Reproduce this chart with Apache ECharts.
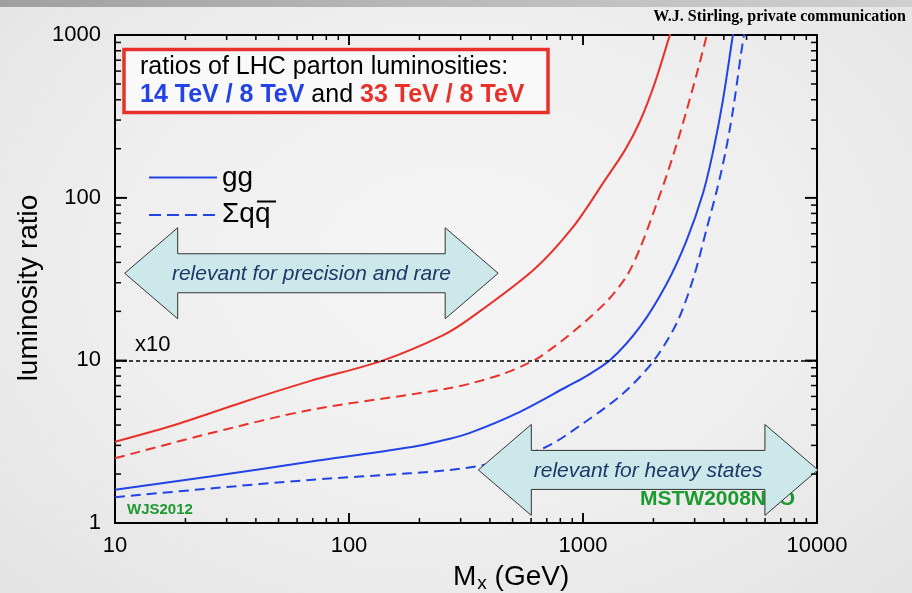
<!DOCTYPE html>
<html>
<head>
<meta charset="utf-8">
<script src="https://cdn.jsdelivr.net/npm/echarts@6/dist/echarts.min.js"></script>
<style>
  html, body { margin: 0; padding: 0; width: 912px; height: 593px; overflow: hidden; }
  body { background: radial-gradient(ellipse at 50% 45%, #f5f5f5 0%, #eeeeee 55%, #e3e3e3 100%); }
  #band { position: absolute; left: 0; top: 0; width: 912px; height: 7px;
          background: linear-gradient(to right, #a0a0a0, #bababa 50%, #cfcfcf); }
  #chart { position: absolute; left: 0; top: 0; width: 912px; height: 593px; }
</style>
</head>
<body>
<div id="band"></div>
<div id="chart"></div>
<script>
// Luminosity ratios vs. mass M_X (GeV): [mass, ratio]
const gg33 = [[10,3.16],[18.4,4.05],[35.4,5.55],[68,7.45],[140,10],[253,14.3],[329,18.1],[614,35.9],[909,66.3],[1250,130],[1511,196],[1750,294],[2030,510],[2353,1005],[2400,1100]];
const qq33 = [[10,2.5],[25.5,3.56],[68,4.95],[182,6.15],[270,6.75],[330,7.2],[450,8.2],[574,9.5],[655,10.5],[909,15],[1262,23],[1537,33],[1754,49],[2066,92],[2281,138],[2513,213],[2775,345],[3065,580],[3357,960],[3420,1100]];
const gg14 = [[10,1.6],[25.5,1.93],[68,2.38],[182,2.92],[270,3.3],[329,3.58],[521,4.72],[852,6.88],[1002,7.8],[1303,10],[1754,16.1],[2281,29.7],[2775,54.9],[3254,106],[3607,196],[3963,398],[4370,1000],[4420,1100]];
const qq14 = [[10,1.44],[25.5,1.63],[68,1.84],[182,2.02],[270,2.12],[375,2.27],[677,2.88],[1002,4.1],[1486,6.27],[2000,9.9],[2513,16.9],[2963,32],[3373,64],[3726,110],[4046,185],[4375,345],[4733,763],[4874,1000],[4950,1150]];

// Reference level, axis ranges and tick values
const refLevel = 10;
const xRange = [10, 10000];
const yRange = [1, 1000];
const xMajorTicks = [10, 100, 1000, 10000];
const yMajorTicks = [1, 10, 100, 1000];
const xMinorTicks = [20,30,40,50,60,70,80,90,200,300,400,500,600,700,800,900,2000,3000,4000,5000,6000,7000,8000,9000];
const yMinorTicks = [2,3,4,5,6,7,8,9,20,30,40,50,60,70,80,90,200,300,400,500,600,700,800,900];

// Double arrows: [from mass, to mass, ratio level]
const arrowSpans = [[11, 434, 34.3], [357, 10090, 2.12]];
const arrowLabels = ['relevant for precision and rare', 'relevant for heavy states'];

const RED = '#e8312a';
const BLUE = '#2243e6';
const SANS = '"Liberation Sans", Arial, Helvetica, sans-serif';
const GRID = { left: 115, right: 95, top: 35, bottom: 70 };

function logAxis(range, position, withLabels, margin, tickLen) {
  return {
    type: 'log', logBase: 10, min: range[0], max: range[1], splitNumber: 3, position,
    axisLine: { show: true, onZero: false, lineStyle: { color: '#000', width: 2 } },
    axisTick: { show: true, inside: true, length: tickLen, lineStyle: { color: '#000', width: 1.5 } },
    splitLine: { show: false },
    axisLabel: withLabels
      ? { fontSize: 22, color: '#000', fontFamily: SANS, margin, formatter: v => String(Math.round(v)) }
      : { show: false }
  };
}

const graphics = [
  // axis titles
  { type: 'text', x: 29, y: 288, rotation: Math.PI / 2, z: 10,
    style: { text: 'luminosity ratio', font: '28px ' + SANS, fill: '#000', align: 'center', verticalAlign: 'middle' } },
  { type: 'text', x: 453, y: 577, z: 10,
    style: { text: '{m|M}{s|x}{m| (GeV)}', verticalAlign: 'middle',
      rich: { m: { fontSize: 28, fontFamily: SANS, fill: '#000' },
              s: { fontSize: 19, fontFamily: SANS, fill: '#000', padding: [14, 0, 0, 1] } } } },
  // credit line
  { type: 'text', x: 906, y: 17, z: 10,
    style: { text: 'W.J. Stirling, private communication', font: 'bold 16px "Liberation Serif", "Times New Roman", serif',
             fill: '#000', align: 'right', verticalAlign: 'middle' } },
  // heading box
  { type: 'rect', z: 10, shape: { x: 124, y: 49.5, width: 424, height: 63 },
    style: { fill: '#f9f9f9', stroke: RED, lineWidth: 3.5 } },
  { type: 'text', x: 140, y: 67, z: 11,
    style: { text: 'ratios of LHC parton luminosities:', font: '25px ' + SANS, fill: '#000', verticalAlign: 'middle' } },
  { type: 'text', x: 140, y: 95, z: 11,
    style: { text: '{b|14 TeV / 8 TeV}{k| and }{r|33 TeV / 8 TeV}', verticalAlign: 'middle',
      rich: { b: { fontSize: 25, fontWeight: 'bold', fontFamily: SANS, fill: BLUE },
              k: { fontSize: 25, fontFamily: SANS, fill: '#000' },
              r: { fontSize: 25, fontWeight: 'bold', fontFamily: SANS, fill: RED } } } },
  // line-style key
  { type: 'line', z: 10, shape: { x1: 149, y1: 177.5, x2: 217, y2: 177.5 }, style: { stroke: BLUE, lineWidth: 2 } },
  { type: 'line', z: 10, shape: { x1: 149, y1: 215, x2: 217, y2: 215 }, style: { stroke: BLUE, lineWidth: 2, lineDash: [12, 6] } },
  { type: 'text', x: 222, y: 178, z: 10,
    style: { text: 'gg', font: '28px ' + SANS, fill: '#000', verticalAlign: 'middle' } },
  { type: 'text', x: 222, y: 214, z: 10,
    style: { text: 'Σqq', font: '28px ' + SANS, fill: '#000', verticalAlign: 'middle' } },
  { type: 'line', z: 10, shape: { x1: 257, y1: 201.5, x2: 276, y2: 201.5 }, style: { stroke: '#000', lineWidth: 2 } },
  // fit labels
  { type: 'text', x: 127, y: 510, z: 4,
    style: { text: 'WJS2012', font: 'bold 15px ' + SANS, fill: '#1c9a30', verticalAlign: 'middle' } },
  { type: 'text', x: 640, y: 499, z: 4,
    style: { text: 'MSTW2008NLO', font: 'bold 21px ' + SANS, fill: '#1c9a30', verticalAlign: 'middle' } }
];

function curve(name, data, color, dashed) {
  return {
    name, type: 'line', data, xAxisIndex: 0, yAxisIndex: 0,
    smooth: 0.3, symbol: 'none', showSymbol: false,
    lineStyle: { color, width: 2, type: dashed ? [10, 6] : 'solid' },
    z: 3, clip: true, silent: true
  };
}

// Frame ticks: one item spanning the minor-tick extent; every tick is placed with api.coord
function renderFrameTicks(params, api) {
  const lo = api.coord([xRange[0], yRange[0]]);
  const hi = api.coord([xRange[1], yRange[1]]);
  const kids = [];
  const bar = (x, y, w, h) => kids.push({
    type: 'polygon',
    shape: { points: [[x, y], [x + w, y], [x + w, y + h], [x, y + h]] },
    style: { fill: '#000' }
  });
  const xt = (v, len) => {
    const px = api.coord([v, yRange[0]])[0];
    bar(px - 0.75, lo[1] - len, 1.5, len);
    bar(px - 0.75, hi[1], 1.5, len);
  };
  const yt = (v, len) => {
    const py = api.coord([xRange[0], v])[1];
    bar(lo[0], py - 0.75, len, 1.5);
    bar(hi[0] - len, py - 0.75, len, 1.5);
  };
  xMajorTicks.slice(1, -1).forEach(v => xt(v, 10));
  xMinorTicks.forEach(v => xt(v, 5));
  yMajorTicks.slice(1, -1).forEach(v => yt(v, 12));
  yMinorTicks.forEach(v => yt(v, 6));
  return { type: 'group', children: kids };
}

function renderArrow(params, api) {
  const a = api.coord([api.value(0), api.value(2)]);
  const b = api.coord([api.value(1), api.value(2)]);
  const L = a[0], R = b[0], cy = a[1];
  const head = 53, hh = 45.5, sh = 19.5;
  const pts = [[L, cy], [L + head, cy - hh], [L + head, cy - sh], [R - head, cy - sh], [R - head, cy - hh],
               [R, cy], [R - head, cy + hh], [R - head, cy + sh], [L + head, cy + sh], [L + head, cy + hh]];
  return { type: 'group', children: [
    { type: 'polygon', shape: { points: pts }, style: { fill: '#cde8ea', stroke: '#333', lineWidth: 1 } },
    { type: 'text', x: (L + R) / 2, y: cy + 1,
      style: { text: arrowLabels[params.dataIndex], font: 'italic 21px ' + SANS, fill: '#1c3866',
               align: 'center', verticalAlign: 'middle' } }
  ] };
}

const chart = echarts.init(document.getElementById('chart'));
chart.setOption({
  backgroundColor: 'transparent',
  animation: false,
  grid: GRID,
  xAxis: [logAxis(xRange, 'bottom', true, 12, 10), logAxis(xRange, 'top', false, 0, 10)],
  yAxis: [logAxis(yRange, 'left', true, 14, 12), logAxis(yRange, 'right', false, 0, 12)],
  graphic: graphics,
  series: [
    curve('gg 33/8', gg33, RED, false),
    curve('qq 33/8', qq33, RED, true),
    curve('gg 14/8', gg14, BLUE, false),
    Object.assign(curve('qq 14/8', qq14, BLUE, true), {
      markLine: {
        silent: true, symbol: ['none', 'none'],
        lineStyle: { color: '#000', width: 1.5, type: [4, 3] },
        label: { show: true, position: 'insideStartTop', formatter: 'x10', fontSize: 22, fontFamily: SANS, color: '#000', distance: [20, 4] },
        data: [{ yAxis: refLevel }]
      }
    }),
    { type: 'custom', name: 'frame ticks', xAxisIndex: 0, yAxisIndex: 0, silent: true, clip: false, z: 7,
      data: [[xMinorTicks[0], xMinorTicks[xMinorTicks.length - 1], yMinorTicks[0], yMinorTicks[yMinorTicks.length - 1]]],
      encode: { x: [0, 1], y: [2, 3] },
      renderItem: renderFrameTicks },
    { type: 'custom', name: 'ranges', xAxisIndex: 0, yAxisIndex: 0, silent: true, clip: false, z: 6,
      data: arrowSpans, encode: { x: [0, 1], y: 2 },
      renderItem: renderArrow }
  ]
});
</script>
</body>
</html>
